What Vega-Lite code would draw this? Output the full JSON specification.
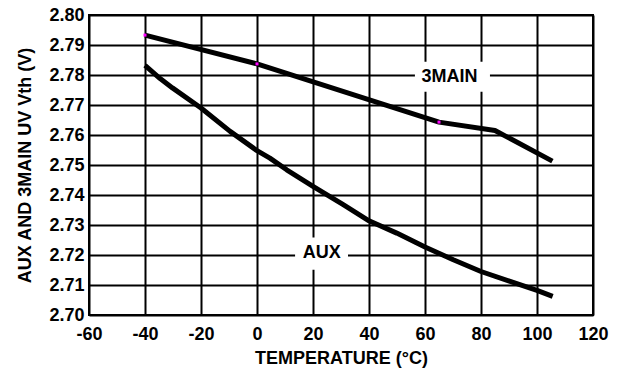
{
  "$schema": "https://vega.github.io/schema/vega-lite/v6.json",
  "width": 504,
  "height": 300,
  "autosize": {"type": "none"},
  "padding": {"left": 89, "top": 15, "right": 33, "bottom": 60},
  "background": "white",
  "config": {
    "view": {"stroke": "black", "strokeWidth": 2},
    "font": "Arial",
    "axis": {
      "grid": true,
      "gridColor": "black",
      "gridWidth": 2,
      "gridOpacity": 1,
      "domain": false,
      "ticks": false,
      "labelFont": "Arial",
      "labelFontWeight": 700,
      "labelFontSize": 18,
      "labelColor": "black",
      "titleFont": "Arial",
      "titleFontWeight": 700,
      "titleFontSize": 18,
      "titleColor": "black",
      "labelFlush": false,
      "labelOverlap": false
    }
  },
  "datasets": {
    "curves": [
      {"series": "3MAIN", "t": -40, "v": 2.7933},
      {"series": "3MAIN", "t": 0, "v": 2.7837},
      {"series": "3MAIN", "t": 65, "v": 2.7643},
      {"series": "3MAIN", "t": 85, "v": 2.7615},
      {"series": "3MAIN", "t": 105.5, "v": 2.7513},
      {"series": "AUX", "t": -40, "v": 2.7832},
      {"series": "AUX", "t": -34.6, "v": 2.7788},
      {"series": "AUX", "t": -30.2, "v": 2.7757},
      {"series": "AUX", "t": -20, "v": 2.769},
      {"series": "AUX", "t": -9.6, "v": 2.7612},
      {"series": "AUX", "t": 0, "v": 2.7548},
      {"series": "AUX", "t": 4.6, "v": 2.7523},
      {"series": "AUX", "t": 10.6, "v": 2.7484},
      {"series": "AUX", "t": 20, "v": 2.7429},
      {"series": "AUX", "t": 30.8, "v": 2.7368},
      {"series": "AUX", "t": 40, "v": 2.7314},
      {"series": "AUX", "t": 49.9, "v": 2.7273},
      {"series": "AUX", "t": 60, "v": 2.7227},
      {"series": "AUX", "t": 70.1, "v": 2.7184},
      {"series": "AUX", "t": 80, "v": 2.7145},
      {"series": "AUX", "t": 90.4, "v": 2.7112},
      {"series": "AUX", "t": 100, "v": 2.7082},
      {"series": "AUX", "t": 105.6, "v": 2.7062}
    ],
    "markers": [
      {"t": -40, "v": 2.7933},
      {"t": 0, "v": 2.7837},
      {"t": 65, "v": 2.7643}
    ],
    "labels": [
      {"label": "3MAIN", "t": 68.75, "v": 2.7795, "t1": 56.4, "t2": 83.2, "v1": 2.7744, "v2": 2.7844},
      {"label": "AUX", "t": 23.1, "v": 2.7207, "t1": 13.6, "t2": 32.5, "v1": 2.7151, "v2": 2.7258}
    ]
  },
  "layer": [
    {
      "data": {"name": "labels"},
      "mark": {"type": "rect", "fill": "white", "stroke": null},
      "encoding": {
        "x": {"field": "t1", "type": "quantitative", "scale": {"domain": [-60, 120], "nice": false}, "axis": {"values": [-60, -40, -20, 0, 20, 40, 60, 80, 100, 120], "labelExpr": "(datum.value < 0 ? '-' : '') + abs(datum.value)", "title": "TEMPERATURE (°C)", "labelPadding": 10, "titleBaseline": "alphabetic", "titleY": 48}},
        "x2": {"field": "t2"},
        "y": {"field": "v1", "type": "quantitative", "scale": {"domain": [2.7, 2.8], "nice": false, "zero": false}, "axis": {"values": [2.7, 2.71, 2.72, 2.73, 2.74, 2.75, 2.76, 2.77, 2.78, 2.79, 2.8], "format": ".2f", "title": "AUX AND 3MAIN UV Vth (V)", "labelPadding": 5, "titleBaseline": "alphabetic", "titleX": -59, "titleY": 150, "titleAngle": -90, "titleAlign": "center"}},
        "y2": {"field": "v2"}
      }
    },
    {
      "data": {"name": "labels"},
      "mark": {"type": "text", "font": "Arial", "fontWeight": 700, "fontSize": 18, "color": "black", "align": "center", "baseline": "middle"},
      "encoding": {
        "x": {"field": "t", "type": "quantitative", "scale": {"domain": [-60, 120], "nice": false}, "axis": {"values": [-60, -40, -20, 0, 20, 40, 60, 80, 100, 120], "labelExpr": "(datum.value < 0 ? '-' : '') + abs(datum.value)", "title": "TEMPERATURE (°C)", "labelPadding": 10, "titleBaseline": "alphabetic", "titleY": 48}},
        "y": {"field": "v", "type": "quantitative", "scale": {"domain": [2.7, 2.8], "nice": false, "zero": false}, "axis": {"values": [2.7, 2.71, 2.72, 2.73, 2.74, 2.75, 2.76, 2.77, 2.78, 2.79, 2.8], "format": ".2f", "title": "AUX AND 3MAIN UV Vth (V)", "labelPadding": 5, "titleBaseline": "alphabetic", "titleX": -59, "titleY": 150, "titleAngle": -90, "titleAlign": "center"}},
        "text": {"field": "label"}
      }
    },
    {
      "data": {"name": "curves"},
      "mark": {"type": "line", "color": "black", "strokeWidth": 5, "strokeJoin": "round", "strokeCap": "butt"},
      "encoding": {
        "x": {"field": "t", "type": "quantitative", "scale": {"domain": [-60, 120], "nice": false}, "axis": {"values": [-60, -40, -20, 0, 20, 40, 60, 80, 100, 120], "labelExpr": "(datum.value < 0 ? '-' : '') + abs(datum.value)", "title": "TEMPERATURE (°C)", "labelPadding": 10, "titleBaseline": "alphabetic", "titleY": 48}},
        "y": {"field": "v", "type": "quantitative", "scale": {"domain": [2.7, 2.8], "nice": false, "zero": false}, "axis": {"values": [2.7, 2.71, 2.72, 2.73, 2.74, 2.75, 2.76, 2.77, 2.78, 2.79, 2.8], "format": ".2f", "title": "AUX AND 3MAIN UV Vth (V)", "labelPadding": 5, "titleBaseline": "alphabetic", "titleX": -59, "titleY": 150, "titleAngle": -90, "titleAlign": "center"}},
        "detail": {"field": "series"}
      }
    },
    {
      "data": {"name": "markers"},
      "mark": {"type": "square", "color": "#ff00ff", "filled": true, "size": 9, "opacity": 1},
      "encoding": {
        "x": {"field": "t", "type": "quantitative", "scale": {"domain": [-60, 120], "nice": false}, "axis": {"values": [-60, -40, -20, 0, 20, 40, 60, 80, 100, 120], "labelExpr": "(datum.value < 0 ? '-' : '') + abs(datum.value)", "title": "TEMPERATURE (°C)", "labelPadding": 10, "titleBaseline": "alphabetic", "titleY": 48}},
        "y": {"field": "v", "type": "quantitative", "scale": {"domain": [2.7, 2.8], "nice": false, "zero": false}, "axis": {"values": [2.7, 2.71, 2.72, 2.73, 2.74, 2.75, 2.76, 2.77, 2.78, 2.79, 2.8], "format": ".2f", "title": "AUX AND 3MAIN UV Vth (V)", "labelPadding": 5, "titleBaseline": "alphabetic", "titleX": -59, "titleY": 150, "titleAngle": -90, "titleAlign": "center"}}
      }
    }
  ]
}
